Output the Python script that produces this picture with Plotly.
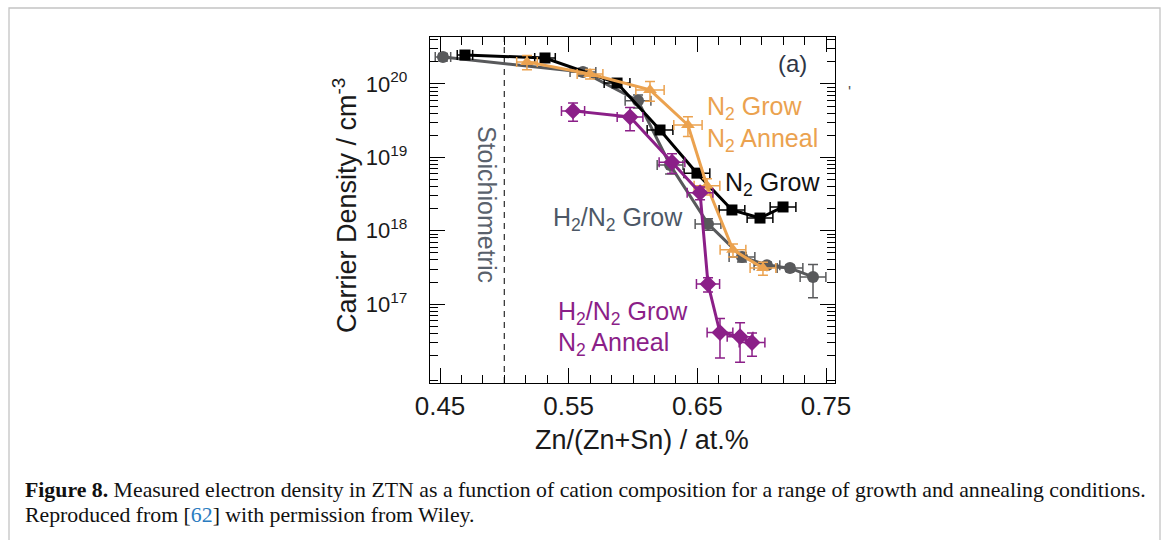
import numpy as np
import plotly.graph_objects as go

# ---- measured data: Zn/(Zn+Sn) composition vs carrier density (cm^-3) ----
# H2/N2 grown films
h2n2_grow_x = [0.4523, 0.5611, 0.6039, 0.6288, 0.6583, 0.6847, 0.7041, 0.7220, 0.7399]
h2n2_grow_n = [2.33e20, 1.46e20, 5.9e19, 7.9e18, 1.24e18, 4.4e17, 3.4e17, 3.1e17, 2.35e17]
h2n2_grow_xerr = [0.006, 0.010, 0.010, 0.010, 0.010, 0.010, 0.010, 0.010, 0.010]
h2n2_grow_nerr = [0.12, 0.12, 0.20, 0.25, 0.18, 0.15, 0.10, 0.10, 0.48]  # relative

# N2 grown films
n2_grow_x = [0.4694, 0.5316, 0.5876, 0.6210, 0.6497, 0.6769, 0.6987, 0.7166]
n2_grow_n = [2.48e20, 2.26e20, 1.03e20, 2.36e19, 6.1e18, 1.92e18, 1.49e18, 2.11e18]
n2_grow_xerr = [0.006, 0.008, 0.010, 0.010, 0.010, 0.010, 0.010, 0.010]
n2_grow_nerr = [0.10, 0.10, 0.10, 0.10, 0.10, 0.10, 0.10, 0.10]

# N2 grown, N2 annealed films
n2_anneal_x = [0.5176, 0.5666, 0.6132, 0.6427, 0.6575, 0.6777, 0.7010]
n2_anneal_n = [2.0e20, 1.37e20, 8.3e19, 2.76e19, 4.1e18, 5.5e17, 3.1e17]
n2_anneal_xerr = [0.008, 0.010, 0.011, 0.011, 0.010, 0.010, 0.010]
n2_anneal_nerr = [0.22, 0.15, 0.30, 0.30, 0.25, 0.20, 0.20]

# H2/N2 grown, N2 annealed films
h2n2_anneal_x = [0.5534, 0.5977, 0.6303, 0.6521, 0.6583, 0.6676, 0.6832, 0.6925]
h2n2_anneal_n = [4.3e19, 3.55e19, 8.6e18, 3.3e18, 1.88e17, 4.1e16, 3.6e16, 3.0e16]
h2n2_anneal_xerr = [0.009, 0.010, 0.010, 0.010, 0.009, 0.010, 0.010, 0.010]
h2n2_anneal_nerr = [0.28, 0.35, 0.30, 0.20, 0.22, 0.55, 0.55, 0.35]

x_tick_start, x_tick_step = 0.45, 0.1
y_decades = [17, 18, 19, 20]

# ---- figure geometry (pixels) ----
W, H = 1169, 540
L, R, T, B = 430, 835, 37, 383


def px(xp):
    return (xp - L) / (R - L)


def py(yp):
    return (B - yp) / (B - T)


GRAY = "#58595b"
BLACK = "#000000"
ORANGE = "#eba24f"
PURPLE = "#8b1f88"


def series(x, n, xerr, nerr, color, symbol, size):
    n = np.asarray(n)
    err = n * np.asarray(nerr)
    return go.Scatter(
        x=x, y=n, mode="lines+markers",
        line=dict(color=color, width=3),
        marker=dict(color=color, symbol=symbol, size=size, line=dict(width=0)),
        error_x=dict(type="data", array=xerr, color=color, thickness=1.5, width=5),
        error_y=dict(type="data", array=err, color=color, thickness=1.5, width=5),
        showlegend=False, cliponaxis=False,
    )


fig = go.Figure()
fig.add_trace(series(h2n2_grow_x, h2n2_grow_n, h2n2_grow_xerr, h2n2_grow_nerr, GRAY, "circle", 12))
fig.add_trace(series(n2_grow_x, n2_grow_n, n2_grow_xerr, n2_grow_nerr, BLACK, "square", 11))
fig.add_trace(series(n2_anneal_x, n2_anneal_n, n2_anneal_xerr, n2_anneal_nerr, ORANGE, "triangle-up", 12))
fig.add_trace(series(h2n2_anneal_x, h2n2_anneal_n, h2n2_anneal_xerr, h2n2_anneal_nerr, PURPLE, "diamond", 13))

# stoichiometric composition marker
fig.add_shape(type="line", xref="x", yref="paper", x0=0.5, x1=0.5, y0=0, y1=1,
              line=dict(color="#3a3a3a", width=1.3, dash="6px,5px"), layer="below")

# frame around the whole figure
fig.add_shape(type="rect", xref="paper", yref="paper",
              x0=px(9), x1=px(1160), y0=py(8), y1=py(600),
              line=dict(color="#c4c4c4", width=1.3))

minor_y = [m * 10.0 ** d for d in range(15, 21) for m in range(2, 10)]

SANS = "Liberation Sans, Arial, Helvetica, sans-serif"
SERIF = "Liberation Serif, Times New Roman, serif"

fig.update_layout(
    width=W, height=H,
    margin=dict(l=L, r=W - R, t=T, b=H - B, pad=0),
    paper_bgcolor="white", plot_bgcolor="white",
    font=dict(family=SANS, color="#1a1a1a"),
    xaxis=dict(
        range=[0.44223, 0.75699], tickmode="linear", tick0=x_tick_start, dtick=x_tick_step,
        tickformat=".2f", ticks="inside", ticklen=15, tickwidth=1.3, tickcolor="black",
        showline=True, linecolor="black", linewidth=1.3, mirror="ticks",
        showgrid=False, zeroline=False, tickfont=dict(size=26, family=SANS, color="#1a1a1a"),
        ticklabelstandoff=0,
        minor=dict(tickmode="linear", tick0=x_tick_start, dtick=x_tick_step / 6,
                   ticks="inside", ticklen=8, tickwidth=1.3, tickcolor="black", showgrid=False),
    ),
    yaxis=dict(
        type="log", range=[15.926, 20.640],
        tickmode="array", tickvals=[10.0 ** d for d in y_decades],
        ticktext=[f"10<sup>{d}</sup>" for d in y_decades],
        ticks="inside", ticklen=15, tickwidth=1.3, tickcolor="black",
        showline=True, linecolor="black", linewidth=1.3, mirror="ticks",
        showgrid=False, zeroline=False, tickfont=dict(size=22, family=SANS, color="#1a1a1a"),
        ticklabelstandoff=17,
        minor=dict(tickmode="array", tickvals=minor_y, ticks="inside", ticklen=8,
                   tickwidth=1.3, tickcolor="black", showgrid=False),
    ),
)

ann = []


def label(text, xp, yp, color, size=25, xanchor="left", angle=0, family=SANS):
    ann.append(dict(text=text, x=px(xp), y=py(yp), xref="paper", yref="paper",
                    xanchor=xanchor, yanchor="middle", showarrow=False, textangle=angle,
                    font=dict(size=size, color=color, family=family)))


label("N<sub>2</sub> Grow", 705, 108, ORANGE)
label("N<sub>2</sub> Anneal", 705, 140, ORANGE)
label("N<sub>2</sub> Grow", 723, 184, "#111111")
label("H<sub>2</sub>/N<sub>2</sub> Grow", 551, 219, "#4d5866")
label("H<sub>2</sub>/N<sub>2</sub> Grow", 556, 313, PURPLE)
label("N<sub>2</sub> Anneal", 556, 344, PURPLE)
label("(a)", 792, 63, "#2f3646", size=24, xanchor="center")
label("Stoichiometric", 487, 204, "#59616c", size=25, xanchor="center", angle=90)
label("'", 849, 92, "#555555", size=16, xanchor="center")

# axis titles
label("Zn/(Zn+Sn) / at.%", 642, 440, "#1a1a1a", size=27, xanchor="center")
label("Carrier Density / cm<sup>-3</sup>", 345, 206, "#1a1a1a", size=27, xanchor="center", angle=-90)

# caption
label("<b>Figure 8.</b> Measured electron density in ZTN as a function of cation composition "
      "for a range of growth and annealing conditions.", 23, 490, "#111111", size=21.8,
      family=SERIF)
label("Reproduced from [<span style='color:#2a7cc0'>62</span>] with permission from Wiley.",
      23, 515, "#111111", size=21.8, family=SERIF)

fig.update_layout(annotations=ann)

fig.write_html("out.html")
